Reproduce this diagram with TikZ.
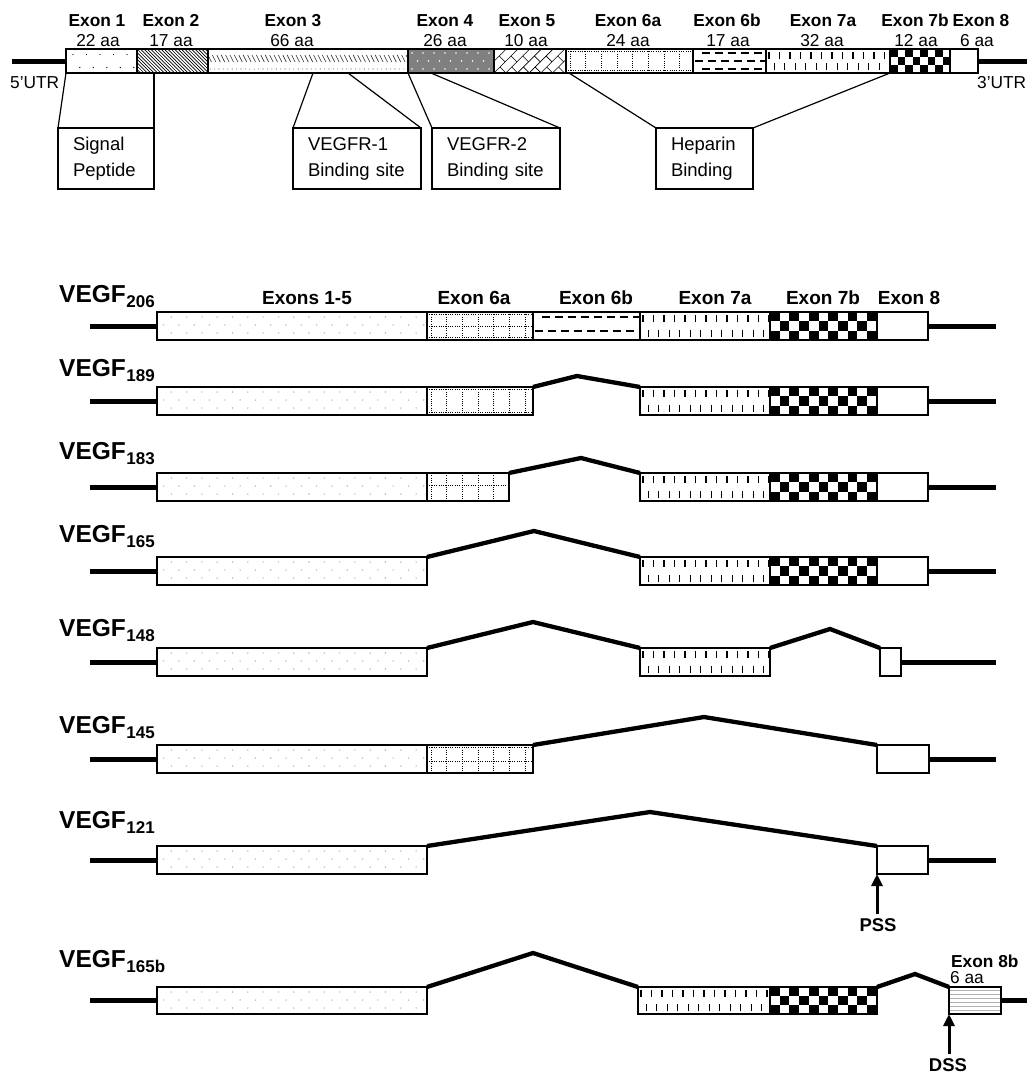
\documentclass[tikz,border=0pt]{standalone}
\usepackage{fontspec}
\setmainfont{Liberation Sans}
\usetikzlibrary{arrows.meta}

% ---------- fill patterns, drawn in box-local coordinates (x right, y down) ----------
\newcommand\PGdots{\foreach \k in {0,...,18}{\fill[gray!55] ({14.3+15.3*\k},5) circle (0.8pt) ({6.65+15.3*\k},13) circle (0.8pt) ({14.3+15.3*\k},21) circle (0.8pt);}}
\newcommand\PBdots{\foreach \k in {0,...,6}{\fill ({7+13.5*\k},5.5) circle (0.7pt) ({0.3+13.5*\k},18.5) circle (0.7pt);}}
\newcommand\PNW{\foreach \k in {-8,...,22}{\draw[line width=0.7pt] ({3.4*\k},0) -- ({3.4*\k+24},24);}}
\newcommand\PBsl{\foreach \k in {0,...,46}{\draw[line width=0.6pt,black!80] ({4.4*\k},6) -- ({4.4*\k+3.5},13); \fill[black!60] ({4.4*\k+2.2},20) circle (0.55pt);}}
\newcommand\PHalf{\foreach \k in {0,...,8}{\fill[white] ({4+11*\k},4) circle (0.9pt) ({9.5+11*\k},12) circle (0.9pt) ({4+11*\k},20) circle (0.9pt);}}
\newcommand\PBrick{\foreach \k in {-3,...,7}{\draw[line width=0.6pt] ({11.7*\k},24) -- ({11.7*\k+24},0); \draw[line width=0.6pt] ({11.7*\k+6},18) -- ({11.7*\k+11.85},23.85); \draw[line width=0.6pt] ({11.7*\k+17},7) -- ({11.7*\k+22.85},12.85);}}
\newcommand\PDotGrid[2]{\begin{scope}[line width=0.9pt,dash pattern=on 0.9pt off 1.4pt]\foreach \y in {#1}{\draw (0,\y) -- (200,\y);}\foreach \k in {0,...,8}{\draw ({4+15.7*\k},0) -- ({4+15.7*\k},#2);}\end{scope}}
\newcommand\PDash[1]{\foreach \y [count=\c] in {#1}{\pgfmathsetmacro\off{mod(\c,2)*6.5}\foreach \k in {0,...,9}{\draw[line width=1.3pt] ({\off+2+13*\k},\y) -- ({\off+10+13*\k},\y);}}}
\newcommand\PVdash[1]{\foreach \k in {0,...,14}{\draw[line width=1.1pt] ({3+10.5*\k},3) -- ({3+10.5*\k},10) ({8.25+10.5*\k},#1-10) -- ({8.25+10.5*\k},#1-3);}}
\newcommand\PChk[2]{\foreach \i in {0,2,...,16}{\foreach \j in {0,2}{\fill ({\i*#1},{\j*#2}) rectangle ({(\i+1)*#1},{(\j+1)*#2}); \fill ({(\i+1)*#1},{(\j+1)*#2}) rectangle ({(\i+2)*#1},{(\j+2)*#2});}}}
\newcommand\PHl{\foreach \y in {3,7,...,27}{\draw[gray!60,line width=0.8pt] (0,\y) -- (60,\y);}}
\newcommand\PNone{}

\newcommand\vsub[1]{\kern0.5pt\raisebox{-5pt}{\fontsize{17}{17}\selectfont #1}}
% name, x1, x2, ytop, height, extra style, pattern code
\newcommand\Exon[7]{%
 \node[exbox,minimum width={(#3-#2)*1pt},minimum height={#5*1pt},anchor=north west,#6] (#1) at (#2,#4) {};
 \begin{scope}
  \clip (#2,#4) rectangle (#3,#4+#5);
  \begin{scope}[shift={(#2,#4)}]#7\end{scope}
 \end{scope}
 \draw[line width=1.3pt] (#1.north west) rectangle (#1.south east);}

\tikzset{
 exbox/.style={draw,line width=1.3pt,fill=white,inner sep=0pt,outer sep=0pt},
 utr/.style={line width=5pt},
 splice/.style={line width=4.3pt},
 call/.style={line width=1.2pt},
 callbox/.style={draw,line width=1.3pt,anchor=north west,inner xsep=15pt,inner ysep=0pt,outer sep=0pt,align=left,minimum height=61pt,font=\fontsize{18.5}{26}\selectfont},
 hdrA/.style={inner sep=0pt,anchor=base,font=\bfseries\fontsize{17.3}{17.3}\selectfont},
 aaA/.style={inner sep=0pt,anchor=base,font=\fontsize{17.3}{17.3}\selectfont},
 hdrB/.style={inner sep=0pt,anchor=base,font=\bfseries\fontsize{19}{19}\selectfont},
 vlab/.style={inner sep=0pt,anchor=base west,font=\bfseries\fontsize{24.5}{24.5}\selectfont},
 site/.style={inner sep=0pt,font=\bfseries\fontsize{18.5}{18.5}\selectfont},
 sitearr/.style={line width=3pt,-{Triangle[length=12pt,width=11pt]},shorten <=4pt},
}

\begin{document}
\begin{tikzpicture}[x=1pt,y=-1pt]
\useasboundingbox (0,0) rectangle (1027,1074);

% ================= TOP: gene structure =================
\Exon{t1}{66}{137}{49}{24}{}{\PBdots}
\Exon{t2}{137}{208}{49}{24}{}{\PNW}
\Exon{t3}{208}{408}{49}{24}{}{\PBsl}
\Exon{t4}{408}{494}{49}{24}{fill=black!50}{\PHalf}
\Exon{t5}{494}{566}{49}{24}{}{\PBrick}
\Exon{t6a}{566}{693}{49}{24}{}{\PDotGrid{2.5,21.5}{24}}
\Exon{t6b}{693}{766}{49}{24}{}{\PDash{4,12,20}}
\Exon{t7a}{766}{890}{49}{24}{}{\PVdash{24}}
\Exon{t7b}{890}{950}{49}{24}{}{\PChk{7.5}{8}}
\Exon{t8}{950}{978}{49}{24}{}{\PNone}
\coordinate (u5) at (12,61);
\coordinate (u3) at (1032,61);
\draw[utr] (u5) -- (t1.west);
\draw[utr] (t8.east) -- (u3);

\node[hdrA] (h1) at (97,26) {Exon 1};
\node[hdrA] (h2) at (171,26) {Exon 2};
\node[hdrA] (h3) at (293,26) {Exon 3};
\node[hdrA] (h4) at (445,26) {Exon 4};
\node[hdrA] (h5) at (527,26) {Exon 5};
\node[hdrA] (h6a) at (628,26) {Exon 6a};
\node[hdrA] (h6b) at (727,26) {Exon 6b};
\node[hdrA] (h7a) at (823,26) {Exon 7a};
\node[hdrA] (h7b) at (915,26) {Exon 7b};
\node[hdrA] (h8) at (981,26) {Exon 8};
\node[aaA] (n1) at (98,46) {22 aa};
\node[aaA] (n2) at (171,46) {17 aa};
\node[aaA] (n3) at (292,46) {66 aa};
\node[aaA] (n4) at (445,46) {26 aa};
\node[aaA] (n5) at (526,46) {10 aa};
\node[aaA] (n6a) at (628,46) {24 aa};
\node[aaA] (n6b) at (728,46) {17 aa};
\node[aaA] (n7a) at (822,46) {32 aa};
\node[aaA] (n7b) at (916,46) {12 aa};
\node[aaA] (n8) at (977,46) {6 aa};
\node[aaA,anchor=base west] (utr5t) at (10,88) {5'UTR};
\node[aaA,anchor=base west] (utr3t) at (977,88) {3'UTR};

% callouts
\node[callbox,text width=66pt] (cb1) at (58,128) {Signal\\Peptide};
\node[callbox,text width=98pt] (cb2) at (293,128) {VEGFR-1\\Binding site};
\node[callbox,text width=98pt] (cb3) at (432,128) {VEGFR-2\\Binding site};
\node[callbox,text width=67pt] (cb4) at (656,128) {Heparin\\Binding};
\draw[call] (t1.south west) -- (cb1.north west);
\draw[call] (cb1.north east) -- (cb1.north east |- t2.south);
\draw[call] ([xshift=105pt]t3.south west) -- (cb2.north west);
\draw[call] ([xshift=140pt]t3.south west) -- (cb2.north east);
\draw[call] (t4.south west) -- (cb3.north west);
\draw[call] ([xshift=23pt]t4.south west) -- (cb3.north east);
\draw[call] ([xshift=3pt]t6a.south west) -- (cb4.north west);
\draw[call] (t7b.south west) -- (cb4.north east);

% ================= BOTTOM: isoforms =================
\node[hdrB] (H15) at (307,304) {Exons 1-5};
\node[hdrB] (H6a) at (474,304) {Exon 6a};
\node[hdrB] (H6b) at (596,304) {Exon 6b};
\node[hdrB] (H7a) at (715,304) {Exon 7a};
\node[hdrB] (H7b) at (823,304) {Exon 7b};
\node[hdrB] (H8) at (909,304) {Exon 8};

% VEGF206
\node[vlab] (v206) at (59,302) {VEGF\vsub{206}};
\Exon{a15}{157}{427}{312}{28}{}{\PGdots}
\Exon{a6a}{427}{533}{312}{28}{}{\PDotGrid{2.5,14,25.5}{28}}
\Exon{a6b}{533}{640}{312}{28}{}{\PDash{5,19}}
\Exon{a7a}{640}{770}{312}{28}{}{\PVdash{28}}
\Exon{a7b}{770}{877}{312}{28}{}{\PChk{9.7}{9.33}}
\Exon{a8}{877}{928}{312}{28}{}{\PNone}
\coordinate (aL) at (90,326); \coordinate (aR) at (996,326);
\draw[utr] (aL) -- (a15.west); \draw[utr] (a8.east) -- (aR);

% VEGF189
\node[vlab] (v189) at (59,376) {VEGF\vsub{189}};
\Exon{b15}{157}{427}{387}{28}{}{\PGdots}
\Exon{b6a}{427}{533}{387}{28}{}{\PDotGrid{2.5,25.5}{28}}
\Exon{b7a}{640}{770}{387}{28}{}{\PVdash{28}}
\Exon{b7b}{770}{877}{387}{28}{}{\PChk{9.7}{9.33}}
\Exon{b8}{877}{928}{387}{28}{}{\PNone}
\coordinate (bL) at (90,401); \coordinate (bR) at (996,401); \coordinate (bP) at (577,376);
\draw[utr] (bL) -- (b15.west); \draw[utr] (b8.east) -- (bR);
\draw[splice] (b6a.north east) -- (bP) -- (b7a.north west);

% VEGF183
\node[vlab] (v183) at (59,459) {VEGF\vsub{183}};
\Exon{c15}{157}{427}{473}{28}{}{\PGdots}
\Exon{c6a}{427}{509}{473}{28}{}{\PDotGrid{12}{28}}
\Exon{c7a}{640}{770}{473}{28}{}{\PVdash{28}}
\Exon{c7b}{770}{877}{473}{28}{}{\PChk{9.7}{9.33}}
\Exon{c8}{877}{928}{473}{28}{}{\PNone}
\coordinate (cL) at (90,487); \coordinate (cR) at (996,487); \coordinate (cP) at (581,458);
\draw[utr] (cL) -- (c15.west); \draw[utr] (c8.east) -- (cR);
\draw[splice] (c6a.north east) -- (cP) -- (c7a.north west);

% VEGF165
\node[vlab] (v165) at (59,542) {VEGF\vsub{165}};
\Exon{d15}{157}{427}{557}{28}{}{\PGdots}
\Exon{d7a}{640}{770}{557}{28}{}{\PVdash{28}}
\Exon{d7b}{770}{877}{557}{28}{}{\PChk{9.7}{9.33}}
\Exon{d8}{877}{928}{557}{28}{}{\PNone}
\coordinate (dL) at (90,571); \coordinate (dR) at (996,571); \coordinate (dP) at (534,531);
\draw[utr] (dL) -- (d15.west); \draw[utr] (d8.east) -- (dR);
\draw[splice] (d15.north east) -- (dP) -- (d7a.north west);

% VEGF148
\node[vlab] (v148) at (59,636) {VEGF\vsub{148}};
\Exon{e15}{157}{427}{648}{28}{}{\PGdots}
\Exon{e7a}{640}{770}{648}{28}{}{\PVdash{28}}
\Exon{e8}{880}{901}{648}{28}{}{\PNone}
\coordinate (eL) at (90,662); \coordinate (eR) at (996,662);
\coordinate (eP1) at (533,622); \coordinate (eP2) at (830,629);
\draw[utr] (eL) -- (e15.west); \draw[utr] (e8.east) -- (eR);
\draw[splice] (e15.north east) -- (eP1) -- (e7a.north west);
\draw[splice] (e7a.north east) -- (eP2) -- (e8.north west);

% VEGF145
\node[vlab] (v145) at (59,733) {VEGF\vsub{145}};
\Exon{f15}{157}{427}{745}{28}{}{\PGdots}
\Exon{f6a}{427}{533}{745}{28}{}{\PDotGrid{2.5,16}{28}}
\Exon{f8}{877}{929}{745}{28}{}{\PNone}
\coordinate (fL) at (90,759); \coordinate (fR) at (996,759); \coordinate (fP) at (704,717);
\draw[utr] (fL) -- (f15.west); \draw[utr] (f8.east) -- (fR);
\draw[splice] (f6a.north east) -- (fP) -- (f8.north west);

% VEGF121
\node[vlab] (v121) at (59,828) {VEGF\vsub{121}};
\Exon{g15}{157}{427}{846}{28}{}{\PGdots}
\Exon{g8}{877}{928}{846}{28}{}{\PNone}
\coordinate (gL) at (90,860); \coordinate (gR) at (996,860); \coordinate (gP) at (650,812);
\draw[utr] (gL) -- (g15.west); \draw[utr] (g8.east) -- (gR);
\draw[splice] (g15.north east) -- (gP) -- (g8.north west);
\node[site] (pss) at (878,925) {PSS};
\draw[sitearr] (g8.south west |- pss.north) -- (g8.south west);

% VEGF165b
\node[vlab] (v165b) at (59,967) {VEGF\vsub{165b}};
\Exon{h15}{157}{427}{987}{27}{}{\PGdots}
\Exon{h7a}{638}{770}{987}{27}{}{\PVdash{27}}
\Exon{h7b}{770}{877}{987}{27}{}{\PChk{9.7}{9}}
\Exon{h8b}{949}{1001}{987}{27}{}{\PHl}
\coordinate (hL) at (90,1000.5); \coordinate (hR) at (1032,1000.5);
\coordinate (hP1) at (533,953); \coordinate (hP2) at (915,974);
\draw[utr] (hL) -- (h15.west); \draw[utr] (h8b.east) -- (hR);
\draw[splice] (h15.north east) -- (hP1) -- (h7a.north west);
\draw[splice] (h7b.north east) -- (hP2) -- (h8b.north west);
\node[hdrA,anchor=base west] (x8b) at (951,967) {Exon 8b};
\node[aaA,anchor=base west] (x8baa) at (950,983) {6 aa};
\node[site] (dss) at (948,1065) {DSS};
\draw[sitearr] (h8b.south west |- dss.north) -- (h8b.south west);
\end{tikzpicture}
\end{document}
